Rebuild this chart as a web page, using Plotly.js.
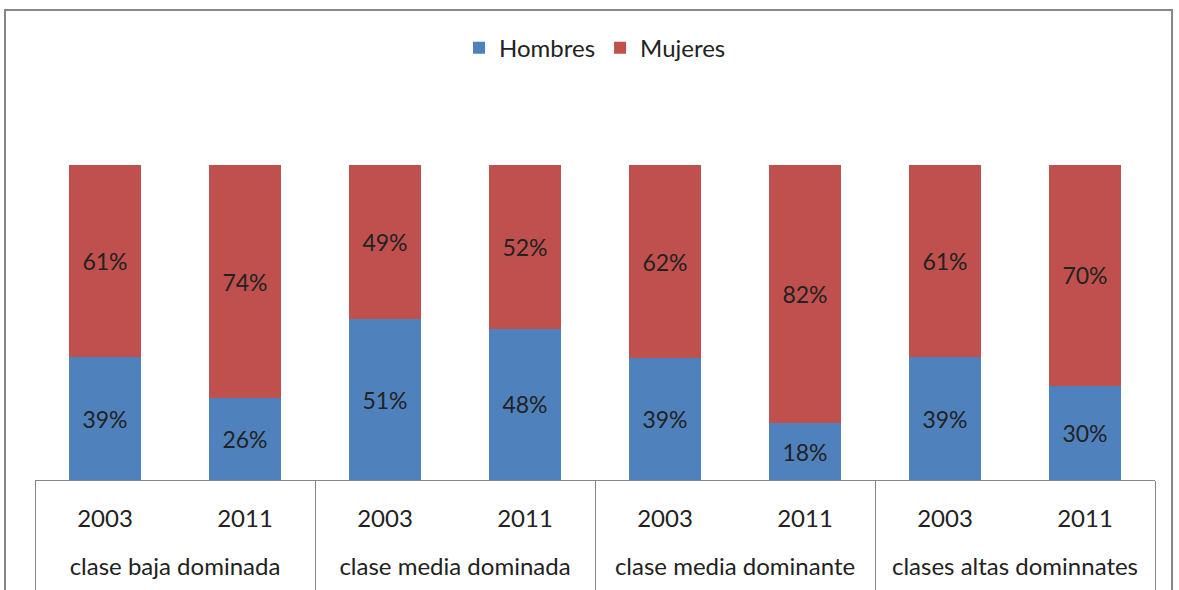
<!DOCTYPE html>
<html>
<head>
<meta charset="utf-8">
<script src="https://cdn.plot.ly/plotly-3.0.1.min.js"></script>
<style>
  html, body { margin: 0; padding: 0; background: #fff; }
  #graph { width: 1179px; height: 590px; }
</style>
</head>
<body>
<div id="graph"></div>
<script>
'use strict';

var grupos = ['clase baja dominada', 'clase media dominada',
              'clase media dominante', 'clases altas dominnates'];
var anios = ['2003', '2011'];

var hombres = [39, 26, 51, 48, 39, 18, 39, 30];
var mujeres = [61, 74, 49, 52, 62, 82, 61, 70];

var fuente = 'Lato, "Open Sans", sans-serif';

// one category per bar: group + year
var claves = [];
var textoAnios = [];
grupos.forEach(function (g) {
    anios.forEach(function (a) {
        claves.push(g + ' ' + a);
        textoAnios.push(a);
    });
});

// group centres and borders in category index units
var centros = grupos.map(function (g, i) { return i * anios.length + (anios.length - 1) / 2; });
var bordes = [-0.5].concat(grupos.map(function (g, i) { return (i + 1) * anios.length - 0.5; }));

function pct(arr) {
    return arr.map(function (v) { return v + '%'; });
}

var trace1 = {
    x: claves,
    y: hombres,
    name: 'Hombres',
    type: 'bar',
    marker: { color: '#4F81BD' },
    text: pct(hombres),
    textposition: 'inside',
    insidetextanchor: 'middle',
    textfont: { family: fuente, size: 23, color: '#222' },
    hoverinfo: 'none'
};

var trace2 = {
    x: claves,
    y: mujeres,
    name: 'Mujeres',
    type: 'bar',
    marker: { color: '#C0504D' },
    text: pct(mujeres),
    textposition: 'inside',
    insidetextanchor: 'middle',
    textfont: { family: fuente, size: 23, color: '#222' },
    hoverinfo: 'none'
};

// empty trace so the group axis gets drawn
var trace3 = {
    x: centros,
    y: centros.map(function () { return 0; }),
    xaxis: 'x2',
    yaxis: 'y',
    type: 'scatter',
    mode: 'none',
    showlegend: false,
    hoverinfo: 'skip'
};

var layout = {
    width: 1179,
    height: 590,
    barmode: 'stack',
    barnorm: 'fraction',
    bargap: 0.485,
    margin: { l: 35, r: 24, t: 165, b: 110 },
    paper_bgcolor: '#fff',
    plot_bgcolor: '#fff',
    font: { family: fuente, size: 23, color: '#222' },
    showlegend: true,
    legend: {
        orientation: 'h',
        x: 0.5, xanchor: 'center',
        y: 1.371, yanchor: 'middle',
        font: { family: fuente, size: 24, color: '#222' },
        traceorder: 'normal'
    },
    xaxis: {
        type: 'category',
        range: [-0.5, claves.length - 0.5],
        tickvals: claves,
        ticktext: textoAnios,
        showline: true,
        linecolor: '#868686',
        linewidth: 1,
        ticks: '',
        ticklabelstandoff: 17,
        automargin: false,
        tickfont: { family: fuente, size: 24, color: '#222' }
    },
    xaxis2: {
        overlaying: 'x',
        anchor: 'y',
        side: 'bottom',
        type: 'linear',
        range: [-0.5, claves.length - 0.5],
        tickvals: centros,
        ticktext: grupos,
        ticks: '',
        showgrid: false,
        zeroline: false,
        showline: false,
        ticklabelstandoff: 70,
        automargin: false,
        tickfont: { family: fuente, size: 24, color: '#222' },
        minor: {
            tickvals: bordes,
            ticks: 'outside',
            ticklen: 115,
            tickwidth: 1,
            tickcolor: '#868686',
            showgrid: false
        }
    },
    yaxis: {
        range: [0, 1],
        visible: false,
        showgrid: false,
        zeroline: false
    },
    shapes: [{
        type: 'rect',
        xref: 'paper', yref: 'paper',
        x0: -0.0268, x1: 1.0152,
        y0: -0.4, y1: 1.492,
        line: { color: '#868686', width: 2 },
        fillcolor: 'rgba(0,0,0,0)'
    }]
};

Plotly.newPlot('graph', [trace1, trace2, trace3], layout, { displayModeBar: false, staticPlot: true });
</script>
</body>
</html>
